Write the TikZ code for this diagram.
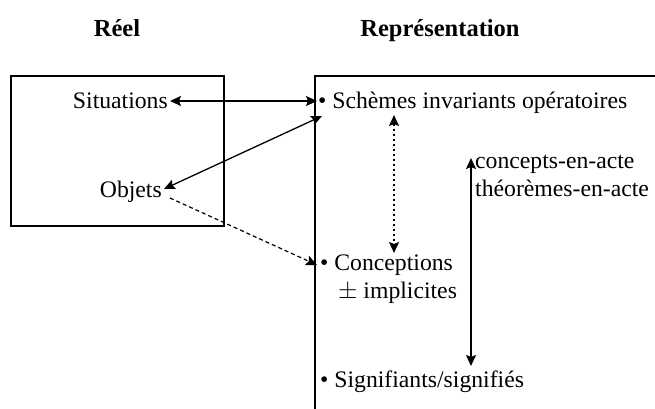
\documentclass[tikz,border=0pt]{standalone}
\usepackage{fontspec}
\setmainfont{Liberation Serif}
\usetikzlibrary{arrows.meta}
\begin{document}
\begin{tikzpicture}[x=1pt,y=-1pt,
  txt/.style={inner sep=0pt, font=\fontsize{23.7}{28}\selectfont},
  hdr/.style={inner sep=0pt, font=\fontsize{24.5}{29}\selectfont\bfseries},
  con/.style={line width=1.3pt, {Stealth[length=11pt,width=10pt,inset=2pt]}-{Stealth[length=11pt,width=10pt,inset=2pt]}},
  frame/.style={line width=1.2pt}]
\useasboundingbox (0,0) rectangle (655,409);
% headers
\node[hdr, anchor=base] (reel) at (117,37) {Réel};
\node[hdr, anchor=base] (rep) at (440,37) {Représentation};
% frames
\draw[frame] (11,76) rectangle (224,226);
\draw[frame] (655,76) -- (315,76) -- (315,409);
% left texts
\node[txt, anchor=base east] (sit) at (168,109) {Situations};
\node[txt, anchor=base east] (obj) at (162,197) {Objets};
% right texts
\node[txt, anchor=base west] (sch) at (318,109) {\textbullet\ Schèmes invariants opératoires};
\node[txt, anchor=base west] (conc) at (320,270) {\textbullet\ Conceptions};
\node[txt, anchor=base west] (impl) at (338,298) {$\pm$ implicites};
\node[txt, anchor=base west] (sig) at (320,387) {\textbullet\ Signifiants/signifiés};
\node[txt, anchor=base west] (cea) at (475,168) {concepts-en-acte};
\node[txt, anchor=base west] (tea) at (475,196) {théorèmes-en-acte};
% coordinates
\coordinate (sitend) at (170,101);
\coordinate (schin) at (317,101);
\coordinate (objend) at (164,189);
\coordinate (schlow) at (322,116);
\coordinate (concin) at (317,265);
\coordinate (dtop) at (394,115);
\coordinate (dbot) at (394,253);
\coordinate (vtop) at (471,158);
\coordinate (vbot) at (471,366);
\coordinate (objse) at (170,198);
% connectors
\draw[con] (sitend) -- (schin);
\draw[con] (objend) -- (schlow);
\draw[line width=1.2pt, dash pattern=on 4pt off 3pt, -{Stealth[length=11pt,width=10pt,inset=2pt]}] (objse) -- (concin);
\draw[line width=1.3pt, dash pattern=on 2pt off 3pt, {Stealth[length=11pt,width=10pt,inset=2pt]}-{Stealth[length=11pt,width=10pt,inset=2pt]}] (dtop) -- (dbot);
\draw[con] (vtop) -- (vbot);
\end{tikzpicture}
\end{document}
